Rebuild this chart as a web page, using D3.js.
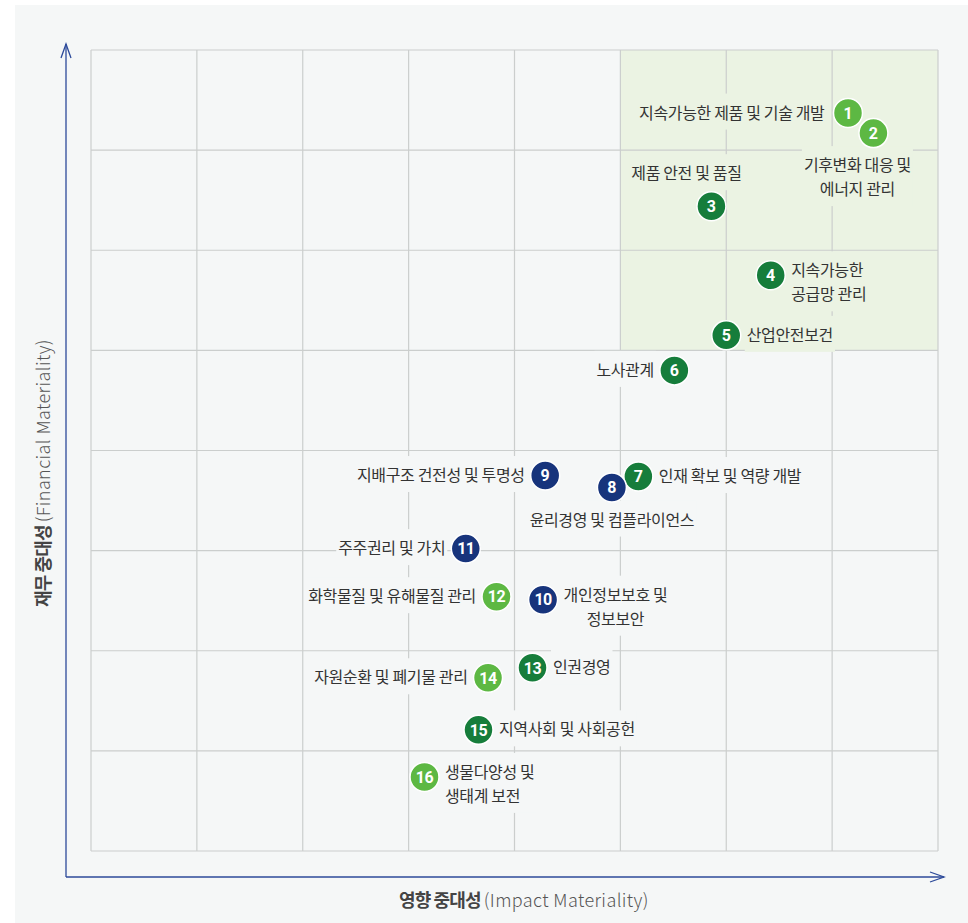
<!DOCTYPE html>
<html>
<head>
<meta charset="utf-8">
<script src="https://cdn.jsdelivr.net/npm/d3@7"></script>
<style>
	html, body { margin: 0; padding: 0; background: #fff; }
	svg { display: block; font-family: 'Noto Sans CJK KR', 'Noto Sans', sans-serif; }
	.grid line { stroke: #cbcecd; stroke-width: 1.2; }
	.label { font-size: 16px; fill: #333; letter-spacing: -0.35px; }
	.num { font-size: 16px; font-weight: 700; fill: #fff; font-family: Roboto, 'Noto Sans', sans-serif; }
	.axis-title { font-size: 18px; fill: #444; }
	.axis-title .ko { font-weight: 700; letter-spacing: -0.9px; }
	.axis-title .en { font-weight: 300; fill: #555; letter-spacing: 0.4px; }
</style>
</head>
<body>
<svg id="chart"></svg>
<script>
// issue numbers and names (line breaks with \n)
const issueIds = [ 1, 2, 3, 4, 5, 6, 7, 8, 9, 10, 11, 12, 13, 14, 15, 16 ];
const issueNames = [
	'지속가능한 제품 및 기술 개발',
	'기후변화 대응 및\n에너지 관리',
	'제품 안전 및 품질',
	'지속가능한\n공급망 관리',
	'산업안전보건',
	'노사관계',
	'인재 확보 및 역량 개발',
	'윤리경영 및 컴플라이언스',
	'지배구조 건전성 및 투명성',
	'개인정보보호 및\n정보보안',
	'주주권리 및 가치',
	'화학물질 및 유해물질 관리',
	'인권경영',
	'자원순환 및 폐기물 관리',
	'지역사회 및 사회공헌',
	'생물다양성 및\n생태계 보전',
];
// impact materiality (x) and financial materiality (y), 0-8 grid units
const impactScores = [ 7.15, 7.39, 5.86, 6.42, 6.0, 5.51, 5.17, 4.92, 4.29, 4.27, 3.54, 3.83, 4.17, 3.75, 3.66, 3.15 ];
const financialScores = [ 7.37, 7.17, 6.44, 5.75, 5.15, 4.8, 3.74, 3.63, 3.75, 2.51, 3.02, 2.54, 1.83, 1.73, 1.21, 0.74 ];
// ESG group per issue: E = light green, S = dark green, G = navy
const issueGroups = [ 'E', 'E', 'S', 'S', 'S', 'S', 'S', 'G', 'G', 'G', 'G', 'E', 'S', 'E', 'S', 'E' ];
const gridTicks = [ 0, 1, 2, 3, 4, 5, 6, 7, 8 ];
const highlightX = [ 5, 8 ];
const highlightY = [ 5, 8 ];

// label placement around each point
const labelSides = [ 'left', 'below', 'above', 'right', 'right', 'left', 'right', 'below',
	'left', 'rightCenter', 'left', 'left', 'right', 'left', 'right', 'right' ];
const labelShift = [ -3, -16, -25, 0, 0, 0, 0, 0, 0, 0, 0, 0, 0, 0, 0, 0 ];

const config = {
	width: 968,
	height: 923,
	plot: { left: 91, right: 938, top: 50, bottom: 851 },
	radius: 14.5,
};
const colors = { E: '#5db843', S: '#167d3b', G: '#17347c' };
const panelColor = '#f5f7f7';
const highlightColor = '#ebf3e3';
const axisColor = '#2c4a9a';

const svg = d3.select( '#chart' )
	.attr( 'width', config.width )
	.attr( 'height', config.height );

svg.append( 'rect' )
	.attr( 'x', 15 ).attr( 'y', 5 )
	.attr( 'width', config.width - 15 ).attr( 'height', config.height - 5 )
	.attr( 'fill', panelColor );

const x = d3.scaleLinear().domain( [ 0, 8 ] ).range( [ config.plot.left, config.plot.right ] );
const y = d3.scaleLinear().domain( [ 0, 8 ] ).range( [ config.plot.bottom, config.plot.top ] );

// highlighted top-right zone
svg.append( 'rect' )
	.attr( 'x', x( highlightX[ 0 ] ) )
	.attr( 'y', y( highlightY[ 1 ] ) )
	.attr( 'width', x( highlightX[ 1 ] ) - x( highlightX[ 0 ] ) )
	.attr( 'height', y( highlightY[ 0 ] ) - y( highlightY[ 1 ] ) )
	.attr( 'fill', highlightColor );

const grid = svg.append( 'g' ).attr( 'class', 'grid' );
grid.selectAll( '.vx' ).data( gridTicks ).join( 'line' )
	.attr( 'x1', ( d ) => x( d ) ).attr( 'x2', ( d ) => x( d ) )
	.attr( 'y1', y( 0 ) ).attr( 'y2', y( 8 ) );
grid.selectAll( '.hy' ).data( gridTicks ).join( 'line' )
	.attr( 'x1', x( 0 ) ).attr( 'x2', x( 8 ) )
	.attr( 'y1', ( d ) => y( d ) ).attr( 'y2', ( d ) => y( d ) );

// axes with open arrow heads
const axisG = svg.append( 'g' ).attr( 'fill', 'none' ).attr( 'stroke', axisColor ).attr( 'stroke-width', 1.3 );
axisG.append( 'path' ).attr( 'd', 'M66,877V44' );
axisG.append( 'path' ).attr( 'd', 'M61,58L66,44L71,58' );
axisG.append( 'path' ).attr( 'd', 'M66,877H944' );
axisG.append( 'path' ).attr( 'd', 'M930,872L944,877L930,882' );

const xt = svg.append( 'text' ).attr( 'class', 'axis-title' )
	.attr( 'x', 524 ).attr( 'y', 907 ).attr( 'text-anchor', 'middle' );
xt.append( 'tspan' ).attr( 'class', 'ko' ).text( '영향 중대성 ' );
xt.append( 'tspan' ).attr( 'class', 'en' ).text( '(Impact Materiality)' );

const yt = svg.append( 'text' ).attr( 'class', 'axis-title' )
	.attr( 'transform', 'translate(50,473) rotate(-90)' ).attr( 'text-anchor', 'middle' );
yt.append( 'tspan' ).attr( 'class', 'ko' ).text( '재무 중대성 ' );
yt.append( 'tspan' ).attr( 'class', 'en' ).text( '(Financial Materiality)' );

const issues = issueIds.map( ( id, i ) => ( {
	id,
	name: issueNames[ i ],
	cx: x( impactScores[ i ] ),
	cy: y( financialScores[ i ] ),
	group: issueGroups[ i ],
	side: labelSides[ i ],
	shift: labelShift[ i ],
} ) );

const lineH = 24;
const gap = config.radius + 6;
const labels = svg.append( 'g' );

issues.forEach( ( d ) => {
	const lines = d.name.split( '\n' );
	const g = labels.append( 'g' );
	let tx = d.cx;
	let ty = d.cy + 5.5;
	let anchor = 'middle';

	if ( d.side === 'left' ) {
		tx = d.cx - gap + d.shift;
		anchor = 'end';
	} else if ( d.side === 'right' || d.side === 'rightCenter' ) {
		tx = d.cx + gap;
		anchor = 'start';
	} else if ( d.side === 'below' ) {
		tx = d.cx + d.shift;
		ty = d.cy + 38;
	} else if ( d.side === 'above' ) {
		tx = d.cx + d.shift;
		ty = d.cy - 27;
	}
	if ( lines.length > 1 && ( d.side === 'right' || d.side === 'rightCenter' ) ) {
		ty = d.cy + 1;
	}

	const bg = g.append( 'rect' );
	const text = g.append( 'text' )
		.attr( 'class', 'label' )
		.attr( 'text-anchor', anchor );
	lines.forEach( ( line, j ) => {
		text.append( 'tspan' )
			.attr( 'x', tx )
			.attr( 'y', ty + j * lineH )
			.text( line );
	} );

	// centre multi-line right labels on their first line
	if ( d.side === 'rightCenter' ) {
		const w = text.node().getBBox().width;
		text.attr( 'text-anchor', 'middle' );
		text.selectAll( 'tspan' ).attr( 'x', tx + w / 2 );
	}

	const box = text.node().getBBox();
	const inZone = x.invert( box.x + box.width / 2 ) > highlightX[ 0 ] && y.invert( box.y + box.height / 2 ) > highlightY[ 0 ];
	bg.attr( 'x', box.x - 2 ).attr( 'y', box.y - 6 )
		.attr( 'width', box.width + 4 ).attr( 'height', box.height + 12 )
		.attr( 'fill', inZone ? highlightColor : panelColor );
} );

const points = svg.append( 'g' )
	.selectAll( 'g' )
	.data( issues )
	.join( 'g' )
	.attr( 'transform', ( d ) => `translate(${ d.cx },${ d.cy })` );

points.append( 'circle' )
	.attr( 'r', config.radius )
	.attr( 'fill', ( d ) => colors[ d.group ] )
	.attr( 'stroke', '#fff' )
	.attr( 'stroke-width', 1.5 );

points.append( 'text' )
	.attr( 'class', 'num' )
	.attr( 'text-anchor', 'middle' )
	.attr( 'dy', '0.36em' )
	.attr( 'letter-spacing', ( d ) => ( d.id > 9 ? '-0.5px' : 0 ) )
	.text( ( d ) => d.id );
</script>
</body>
</html>
